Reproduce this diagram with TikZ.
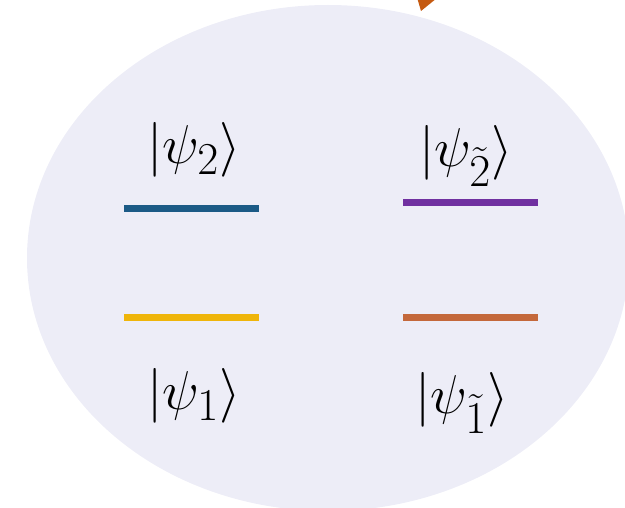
\documentclass[tikz,border=0pt]{standalone}
\usepackage{amsmath}
\usetikzlibrary{positioning,arrows.meta,calc}

\definecolor{cloudfill}{HTML}{EDEDF7}
\definecolor{lvlblue}{HTML}{1B5A86}
\definecolor{lvlpurple}{HTML}{7030A0}
\definecolor{lvlyellow}{HTML}{EFB50A}
\definecolor{lvlorange}{HTML}{C4683B}
\definecolor{arrowtip}{HTML}{C55A11}

\begin{document}
\begin{tikzpicture}[
  x=1pt,y=-1pt,
  ket/.style={inner sep=0pt,font=\Huge,scale=2.2},
  level/.style={line width=7pt},
]
\useasboundingbox (0,0) rectangle (625,508);
\clip (0,0) rectangle (625,508);

% ---------- background cloud ----------
\fill[cloudfill] (328,258) ellipse [x radius=301,y radius=253];

% ---------- incoming arrow tip (cut by the frame) ----------
\coordinate (tip) at (421,11);
\fill[arrowtip] (416,-6) -- (442,-6) -- (tip) -- cycle;

% ---------- levels, left pair ----------
\coordinate (b2l) at (124,209); \coordinate (b2r) at (259,209);
\coordinate (b1l) at (124,318); \coordinate (b1r) at (259,318);
\draw[level,lvlblue]   (b2l) -- (b2r);
\draw[level,lvlyellow] (b1l) -- (b1r);

% ---------- levels, right pair ----------
\coordinate (t2l) at (403,203); \coordinate (t2r) at (538,203);
\coordinate (t1l) at (403,318); \coordinate (t1r) at (538,318);
\draw[level,lvlpurple] (t2l) -- (t2r);
\draw[level,lvlorange] (t1l) -- (t1r);

% ---------- state labels ----------
\node[ket] (psi2)  at (194,150) {$|\psi_2\rangle$};
\node[ket] (psi1)  at (194,396) {$|\psi_1\rangle$};
\node[ket] (psit2) at (466,156) {$|\psi_{\tilde{2}}\rangle$};
\node[ket] (psit1) at (462,403) {$|\psi_{\tilde{1}}\rangle$};
\end{tikzpicture}
\end{document}
